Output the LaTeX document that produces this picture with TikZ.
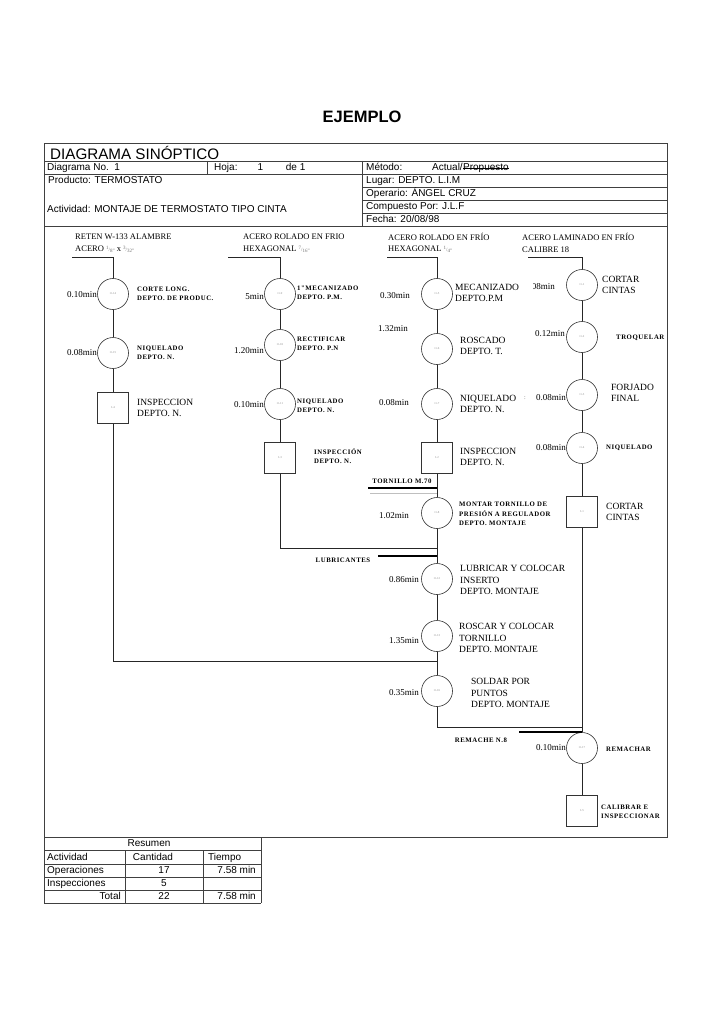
\documentclass[tikz,border=0pt]{standalone}
\usepackage{fontspec}
\setmainfont{Liberation Serif}
\newfontfamily\arial{Liberation Sans}
\newfontfamily\sbfont[LetterSpace=8]{Liberation Serif}
\begin{document}
\begin{tikzpicture}[x=1pt,y=-1pt,
  frame/.style={draw=black!75, line width=0.8pt},
  conn/.style={draw=black!85, line width=0.7pt},
  mat/.style={draw=black, line width=2.2pt},
  op/.style={circle, draw=black!80, line width=0.6pt, minimum size=31pt, inner sep=0pt, font=\fontsize{3}{3}\selectfont, text=black!45},
  insp/.style={rectangle, draw=black!80, line width=0.6pt, minimum size=31pt, inner sep=0pt, font=\fontsize{3}{3}\selectfont, text=black!45},
  tm/.style={anchor=east, inner sep=0pt, font=\fontsize{9}{10}\selectfont},
  big/.style={anchor=west, inner sep=0pt, align=left, font=\fontsize{9.5}{11.5}\selectfont},
  sml/.style={anchor=west, inner sep=0pt, align=left, font=\sbfont\bfseries\fontsize{6.8}{9.5}\selectfont},
  hdr/.style={anchor=west, inner sep=0pt, text height=7.2pt, text depth=2pt, font=\arial\fontsize{10}{12}\selectfont},
  colh/.style={anchor=west, inner sep=0pt, font=\fontsize{8.5}{10}\selectfont}
]
\useasboundingbox (0,0) rectangle (724,1024);
\fill[white] (0,0) rectangle (724,1024);

% title
\node[font=\arial\bfseries\fontsize{16.5}{18}\selectfont] (title) at (362,117) {EJEMPLO};

% frame and header
\draw[frame] (44,143) rectangle (667,837);
\draw[frame] (44,837) -- (44,903);
\draw[frame] (44,161) -- (667,161);
\draw[frame] (44,174) -- (667,174);
\draw[frame] (362,187) -- (667,187);
\draw[frame] (362,200) -- (667,200);
\draw[frame] (362,213) -- (667,213);
\draw[frame] (44,226) -- (667,226);
\draw[frame] (207,161) -- (207,174);
\draw[frame] (362,161) -- (362,226);

\node[anchor=west, inner sep=0pt, font=\arial\fontsize{15.2}{16}\selectfont] (dtitle) at (50,152.5) {DIAGRAMA SINÓPTICO};
\node[hdr] (dno) at (47,167.5) {Diagrama No.\ \ 1};
\node[hdr] (hoja) at (214,167.5) {Hoja:\qquad 1\qquad\ de 1};
\node[hdr] (met) at (366,167.5) {Método:};
\node[hdr] (act) at (432,167.5) {Actual/};
\node[hdr, anchor=base west] (prop) at (act.base east) {Propuesto};
\draw[black, line width=0.6pt] ([yshift=-1.2pt]prop.west) -- ([yshift=-1.2pt]prop.east);
\node[hdr] (prod) at (48,180.5) {Producto: TERMOSTATO};
\node[hdr] (lug) at (366,180.5) {Lugar: DEPTO. L.I.M};
\node[hdr] (oper) at (366,193.5) {Operario: ÁNGEL CRUZ};
\node[hdr] (activ) at (47,210) {Actividad: MONTAJE DE TERMOSTATO TIPO CINTA};
\node[hdr] (comp) at (366,206.5) {Compuesto Por: J.L.F};
\node[hdr] (fecha) at (366,219.5) {Fecha: 20/08/98};

% column headers
\node[colh] (h1a) at (75,237) {RETEN W-133 ALAMBRE};
\node[colh] (h1b) at (75,249) {ACERO {\color{black!55}\fontsize{5}{5}\selectfont\raisebox{1.5pt}{1}/\raisebox{-1pt}{8''}}\ x {\color{black!55}\fontsize{5}{5}\selectfont\raisebox{1.5pt}{3}/\raisebox{-1pt}{32''}}};
\node[colh] (h2a) at (243,237) {ACERO ROLADO EN FRIO};
\node[colh] (h2b) at (243,249) {HEXAGONAL {\color{black!55}\fontsize{5}{5}\selectfont\raisebox{1.5pt}{7}/\raisebox{-1pt}{16''}}};
\node[colh] (h3a) at (388,237) {ACERO ROLADO EN FRÍO};
\node[colh] (h3b) at (388,249) {HEXAGONAL {\color{black!55}\fontsize{5}{5}\selectfont\raisebox{1.5pt}{1}/\raisebox{-1pt}{4''}}};
\node[colh] (h4a) at (522,237) {ACERO LAMINADO EN FRÍO};
\node[colh] (h4b) at (522,250) {CALIBRE 18};

% ---------- column 1 ----------
\node[op] (o14) at (113,294) {O-14};
\node[op] (o15) at (113,353) {O-15};
\node[insp] (i4) at (113,408) {I-4};
\node[tm] (t14) at (97,295) {0.10min};
\node[tm] (t15) at (97,353) {0.08min};
\node[sml] (l14) at (137,294) {CORTE LONG.\\DEPTO. DE PRODUC.};
\node[sml] (l15) at (137,353) {NIQUELADO\\DEPTO. N.};
\node[big] (l4) at (137,408) {INSPECCION\\DEPTO. N.};

% ---------- column 2 ----------
\node[op] (o9) at (280,294) {O-9};
\node[op] (o10) at (280,345) {O-10};
\node[op] (o11) at (280,404) {O-11};
\node[insp] (i3) at (280,458) {I-3};
\node[tm] (t9) at (264,297) {5min};
\node[tm] (t10) at (264,351) {1.20min};
\node[tm] (t11) at (264,405) {0.10min};
\node[sml] (l9) at (297,293) {1"MECANIZADO\\DEPTO. P.M.};
\node[sml] (l10) at (297,344) {RECTIFICAR\\DEPTO. P.N};
\node[sml] (l11) at (297,406) {NIQUELADO\\DEPTO. N.};
\node[sml] (l3) at (314,456) {INSPECCIÓN\\DEPTO. N.};

% ---------- column 3 ----------
\node[op] (o5) at (437,294) {O-5};
\node[op] (o6) at (437,349) {O-6};
\node[op] (o7) at (437,404) {O-7};
\node[insp] (i2) at (437,458) {I-2};
\node[op] (o8) at (437,513) {O-8};
\node[op] (o12) at (437,579) {O-12};
\node[op] (o13) at (437,636) {O-13};
\node[op] (o16) at (437,691) {O-16};
\node[tm] (t5) at (410,296) {0.30min};
\node[tm] (t6) at (408,329) {1.32min};
\node[tm] (t7) at (409,403) {0.08min};
\node[tm] (t8) at (409,516) {1.02min};
\node[tm] (t12) at (419,580) {0.86min};
\node[tm] (t13) at (419,641) {1.35min};
\node[tm] (t16) at (419,693) {0.35min};
\node[big] (l5) at (455,293) {MECANIZADO\\DEPTO.P.M};
\node[big] (l6) at (460,346) {ROSCADO\\DEPTO. T.};
\node[big] (l7) at (460,404) {NIQUELADO\\DEPTO. N.};
\node[big] (l2) at (460,457) {INSPECCION\\DEPTO. N.};
\node[sml] (l8) at (459,514) {MONTAR TORNILLO DE\\PRESIÓN A REGULADOR\\DEPTO. MONTAJE};
\node[big] (l12) at (460,580) {LUBRICAR Y COLOCAR\\INSERTO\\DEPTO. MONTAJE};
\node[big] (l13) at (459,638) {ROSCAR Y COLOCAR\\TORNILLO\\DEPTO. MONTAJE};
\node[big] (l16) at (471,693) {SOLDAR POR\\PUNTOS\\DEPTO. MONTAJE};

% ---------- column 4 ----------
\node[op] (o1) at (582,285) {O-1};
\node[op] (o2) at (582,337) {O-2};
\node[op] (o3) at (582,395) {O-3};
\node[op] (o4) at (582,448) {O-4};
\node[insp] (i1) at (582,512) {I-1};
\node[op] (o17) at (582,748) {O-17};
\node[insp] (i5) at (582,811) {I-5};
\begin{scope}
\clip (533,270) rectangle (566,300);
\node[tm] (t1) at (555,287) {0.08min};
\end{scope}
\node[tm] (t2) at (565,334) {0.12min};
\node[tm] (t3) at (566,398) {0.08min};
\node[inner sep=0pt, font=\fontsize{6}{6}\selectfont, text=black!60] (dots) at (525,398) {:};
\node[tm] (t4) at (566,448) {0.08min};
\node[tm] (t17) at (566,748) {0.10min};
\node[big] (l1) at (602,285) {CORTAR\\CINTAS};
\node[sml] (l2b) at (616,338) {TROQUELAR};
\node[big] (l3b) at (611,393) {FORJADO\\FINAL};
\node[sml] (l4b) at (606,448) {NIQUELADO};
\node[big] (l1i) at (606,512) {CORTAR\\CINTAS};
\node[sml] (l17) at (606,749) {REMACHAR};
\node[sml] (l5i) at (601,812) {CALIBRAR E\\INSPECCIONAR};

% ---------- feed coordinates ----------
\coordinate (f1) at (72,257);
\coordinate (f2) at (228,257);
\coordinate (f3) at (387,257);
\coordinate (f4) at (528,257);
\coordinate (j1) at (437,661);
\coordinate (j2) at (437,548);
\coordinate (j3) at (582,727);

% connectors
\draw[conn] (f1) -| (o14);
\draw[conn] (o14) -- (o15);
\draw[conn] (o15) -- (i4);
\draw[conn] (i4.south) |- (j1);

\draw[conn] (f2) -| (o9);
\draw[conn] (o9) -- (o10);
\draw[conn] (o10) -- (o11);
\draw[conn] (o11) -- (i3);
\draw[conn] (i3.south) |- (j2);

\draw[conn] (f3) -| (o5);
\draw[conn] (o5) -- (o6);
\draw[conn] (o6) -- (o7);
\draw[conn] (o7) -- (i2);
\draw[conn] (i2) -- (o8);
\draw[conn] (o8) -- (o12);
\draw[conn] (o12) -- (o13);
\draw[conn] (o13) -- (o16);
\draw[conn] (o16.south) |- (j3);

\draw[conn] (f4) -| (o1);
\draw[conn] (o1) -- (o2);
\draw[conn] (o2) -- (o3);
\draw[conn] (o3) -- (o4);
\draw[conn] (o4) -- (i1);
\draw[conn] (i1) -- (o17);
\draw[conn] (o17) -- (i5);

% material inputs
\node[sml, anchor=center] (torn) at (402,481) {TORNILLO M.70};
\coordinate (m1a) at (368,488);
\coordinate (m1b) at (437,488);
\draw[mat] (m1a) -- (m1b);
\coordinate (m1c) at (370,493.5);
\coordinate (m1d) at (437,493.5);
\draw[draw=black!25, line width=0.6pt] (m1c) -- (m1d);

\node[sml, anchor=center] (lub) at (343,560) {LUBRICANTES};
\coordinate (m2a) at (378,556);
\coordinate (m2b) at (437,556);
\draw[mat] (m2a) -- (m2b);

\node[sml, anchor=center] (rem) at (481,740) {REMACHE N.8};
\coordinate (m3a) at (519,732);
\coordinate (m3b) at (582,732);
\draw[mat] (m3a) -- (m3b);

% ---------- summary table ----------
\draw[frame] (44,850.5) -- (261,850.5);
\draw[frame] (44,864) -- (261,864);
\draw[frame] (44,877) -- (261,877);
\draw[frame] (44,890) -- (261,890);
\draw[frame] (44,903) -- (261,903);
\draw[frame] (261,837) -- (261,903);
\draw[frame] (125,850.5) -- (125,903);
\draw[frame] (203,850.5) -- (203,903);
\node[hdr, anchor=center] (res) at (149,844) {Resumen};
\node[hdr] (sa) at (47,857.5) {Actividad};
\node[hdr, anchor=center] (sc) at (153,857.5) {Cantidad};
\node[hdr] (st) at (208,857.5) {Tiempo};
\node[hdr] (so) at (47,870.5) {Operaciones};
\node[hdr, anchor=center] (so2) at (164,870.5) {17};
\node[hdr, anchor=east] (so3) at (256,870.5) {7.58 min};
\node[hdr] (si) at (47,883.5) {Inspecciones};
\node[hdr, anchor=center] (si2) at (164,883.5) {5};
\node[hdr, anchor=east] (sto) at (121,896.5) {Total};
\node[hdr, anchor=center] (st2) at (164,896.5) {22};
\node[hdr, anchor=east] (st3) at (256,896.5) {7.58 min};
\end{tikzpicture}
\end{document}
